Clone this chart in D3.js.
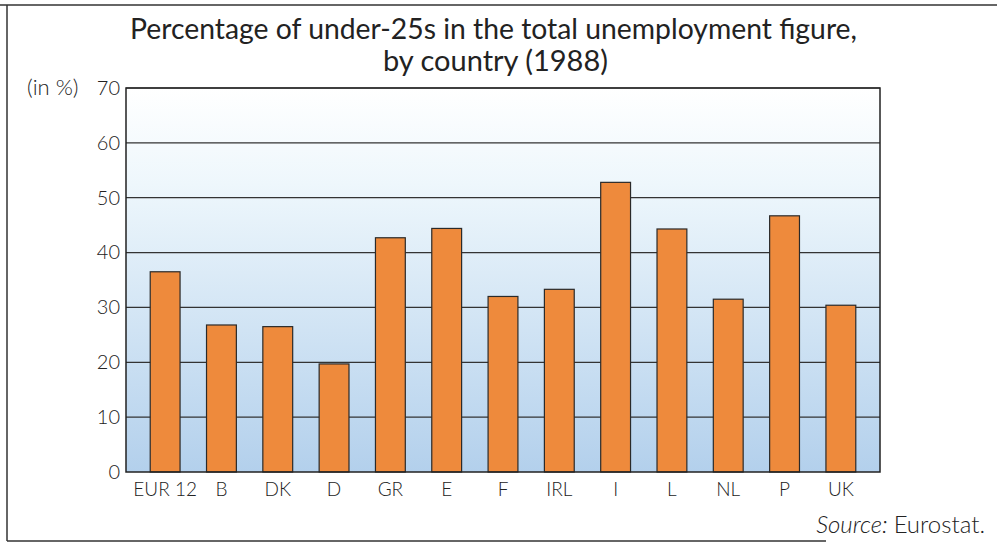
<!DOCTYPE html>
<html>
<head>
<meta charset="utf-8">
<script src="https://cdn.jsdelivr.net/npm/d3@7"></script>
<style>
  body { margin: 0; background: white; }
  svg { display: block; }
  text { font-family: 'Lato', 'DejaVu Sans', sans-serif; fill: #222; }
</style>
</head>
<body>
<div id="chart"></div>
<script>
// countries on the x axis
const countries = ['EUR 12', 'B', 'DK', 'D', 'GR', 'E', 'F', 'IRL', 'I', 'L', 'NL', 'P', 'UK'];
// share of under-25s in total unemployment, 1988 (%)
const shares = [36.5, 26.8, 26.5, 19.7, 42.7, 44.4, 32.0, 33.3, 52.8, 44.3, 31.5, 46.7, 30.4];
// y ticks
const yTicks = [0, 10, 20, 30, 40, 50, 60, 70];

let width = 997,
    height = 545;

let margin = { top: 88, bottom: 73, left: 126, right: 117 };

let svg = d3.select('#chart')
            .append('svg')
            .attr('width', width)
            .attr('height', height);

// background gradient of the plot area
let grad = svg.append('defs').append('linearGradient')
              .attr('id', 'bg')
              .attr('x1', 0).attr('y1', 0).attr('x2', 0).attr('y2', 1);
grad.append('stop').attr('offset', '0%').attr('stop-color', '#ffffff');
grad.append('stop').attr('offset', '25%').attr('stop-color', '#eef7fc');
grad.append('stop').attr('offset', '100%').attr('stop-color', '#b3d0ec');

// scan frame lines
svg.append('line').attr('x1', 0).attr('x2', width).attr('y1', 5).attr('y2', 5)
   .attr('stroke', '#333').attr('stroke-width', 1.5);
svg.append('line').attr('x1', 7).attr('x2', 7).attr('y1', 5).attr('y2', 541)
   .attr('stroke', '#333').attr('stroke-width', 1.5);
svg.append('line').attr('x1', 7).attr('x2', 826).attr('y1', 541).attr('y2', 541)
   .attr('stroke', '#333').attr('stroke-width', 1.5);

// scales
let xScale = d3.scaleBand()
               .domain(countries)
               .range([margin.left, width - margin.right])
               .paddingInner(0.47)
               .paddingOuter(0.43);

let yScale = d3.scaleLinear()
               .domain([0, 70])
               .range([height - margin.bottom, margin.top]);

// plot background
svg.append('rect')
   .attr('x', margin.left)
   .attr('y', margin.top)
   .attr('width', width - margin.left - margin.right)
   .attr('height', height - margin.top - margin.bottom)
   .attr('fill', 'url(#bg)');

// gridlines
svg.append('g')
   .selectAll('line')
   .data(yTicks.filter(d => d > 0))
   .enter()
   .append('line')
   .attr('x1', margin.left)
   .attr('x2', width - margin.right)
   .attr('y1', d => yScale(d))
   .attr('y2', d => yScale(d))
   .attr('stroke', '#333')
   .attr('stroke-width', 1.2);

// bars
svg.append('g')
   .selectAll('rect')
   .data(countries)
   .enter()
   .append('rect')
   .attr('x', d => xScale(d))
   .attr('y', (d, i) => yScale(shares[i]))
   .attr('width', xScale.bandwidth())
   .attr('height', (d, i) => yScale(0) - yScale(shares[i]))
   .attr('fill', '#ee8a3c')
   .attr('stroke', '#2a2a2a')
   .attr('stroke-width', 1.2);

// plot frame
svg.append('rect')
   .attr('x', margin.left)
   .attr('y', margin.top)
   .attr('width', width - margin.left - margin.right)
   .attr('height', height - margin.top - margin.bottom)
   .attr('fill', 'none')
   .attr('stroke', '#222')
   .attr('stroke-width', 1.5);

// y axis labels
let yAxis = svg.append('g')
               .attr('transform', `translate(${margin.left}, 0)`)
               .call(d3.axisLeft(yScale).tickValues(yTicks).tickSize(0).tickPadding(6));
yAxis.select('.domain').remove();
yAxis.selectAll('text')
     .style('font-size', '20px')
     .style('font-weight', '300')
     .style('font-family', "'Lato', 'DejaVu Sans', sans-serif")
     .attr('fill', '#444');

// x axis labels
let xAxis = svg.append('g')
               .attr('transform', `translate(0, ${height - margin.bottom})`)
               .call(d3.axisBottom(xScale).tickSize(0).tickPadding(11));
xAxis.select('.domain').remove();
xAxis.selectAll('text')
     .style('font-size', '19px')
     .style('font-weight', '300')
     .style('font-family', "'Lato', 'DejaVu Sans', sans-serif")
     .attr('fill', '#333');

// unit label
svg.append('text')
   .attr('x', 27)
   .attr('y', 95)
   .text('(in %)')
   .style('font-size', '22px')
   .style('font-weight', '300')
   .attr('fill', '#333');

// title
svg.append('text')
   .attr('x', 130)
   .attr('y', 39)
   .attr('textLength', 727)
   .attr('lengthAdjust', 'spacingAndGlyphs')
   .text('Percentage of under-25s in the total unemployment figure,')
   .style('font-size', '29px');

svg.append('text')
   .attr('x', 383)
   .attr('y', 71)
   .attr('textLength', 225)
   .attr('lengthAdjust', 'spacingAndGlyphs')
   .text('by country (1988)')
   .style('font-size', '29px');

// source
let source = svg.append('text')
   .attr('x', 985)
   .attr('y', 533)
   .style('text-anchor', 'end')
   .style('font-size', '24px')
   .style('font-weight', '300')
   .attr('fill', '#333');
source.append('tspan').style('font-style', 'italic').text('Source: ');
source.append('tspan').text('Eurostat.');
</script>
</body>
</html>
